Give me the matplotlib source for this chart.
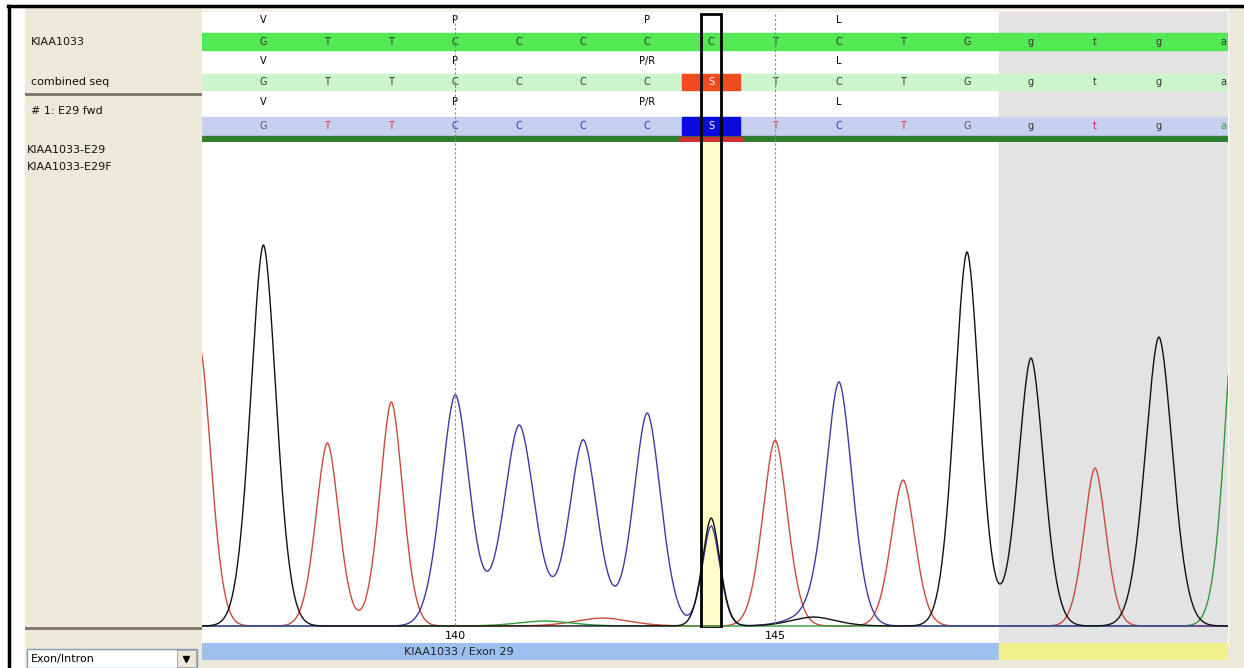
import numpy as np
import matplotlib
matplotlib.use("Agg")
import matplotlib.pyplot as plt
from matplotlib.patches import Rectangle
from matplotlib.lines import Line2D

W, H = 1244, 668

# ---- data ----
positions = np.arange(137, 153)
ref_seq = list("GTTCCCCCTCTGgtga")
combined_seq = list("GTTCCCCSTCTGgtga")
read_seq = list("GTTCCCCSTCTGgtga")
aa_pos = [137, 140, 143, 146]
aa_ref = ["V", "P", "P", "L"]
aa_combined = ["V", "P", "P/R", "L"]
aa_read = ["V", "P", "P/R", "L"]
variant_pos = 144
exon_end = 148.5
tick_pos = [140, 145]
tick_labels = ["140", "145"]
row_labels = ["KIAA1033", "combined seq", "# 1: E29 fwd"]
sample_labels = ["KIAA1033-E29", "KIAA1033-E29F"]
feature_label = "KIAA1033 / Exon 29"
feature_label_pos = 140.05

# chromatogram peaks per channel: position, height, width
g_pos = [137.0, 144.0, 148.0, 149.0, 151.0, 145.6]
g_h = [381, 108, 374, 268, 289, 9]
g_w = [0.29, 0.2, 0.285, 0.29, 0.31, 0.5]
t_pos = [136.0, 138.0, 139.0, 145.0, 147.0, 150.0, 142.3]
t_h = [280, 183, 224, 186, 146, 158, 8]
t_w = [0.26, 0.26, 0.26, 0.28, 0.27, 0.25, 0.6]
c_pos = [140.0, 141.0, 142.0, 143.0, 144.0, 146.0, 145.6]
c_h = [231, 201, 186, 213, 100, 238, 12]
c_w = [0.32, 0.35, 0.32, 0.31, 0.2, 0.3, 0.5]
a_pos = [152.25, 141.4]
a_h = [370, 5]
a_w = [0.28, 0.6]
peak_shape = 1.8

xlim = (136.04, 152.08)
trace_colors = {"G": "#111111", "T": "#cc4a3a", "C": "#3b3ba6", "A": "#2f9a3a"}
read_colors = {"G": "#555555", "T": "#e03030", "C": "#3333bb", "S": "white",
               "g": "#333333", "t": "#d02040", "a": "#33a033"}

fig = plt.figure(figsize=(W / 100, H / 100), dpi=100)
fig.patch.set_facecolor("white")


def px_axes(x0, y0, x1, y1, z=1):
    ax = fig.add_axes([x0 / W, 1 - y1 / H, (x1 - x0) / W, (y1 - y0) / H], zorder=z)
    ax.set_axis_off()
    return ax


# beige frame with white viewer area
bg = px_axes(10, 6, W, H, z=0)
bg.set_xlim(10, W)
bg.set_ylim(H, 6)
bg.add_patch(Rectangle((25, 6), W - 25, H - 6, color="#ece9d8"))
bg.add_patch(Rectangle((202, 6), 1026, 6, color="#f3f1e8"))
bg.add_patch(Rectangle((202, 12), 1026, 631, color="white"))

# left panel
lp = px_axes(25, 0, 202, H, z=2)
lp.set_xlim(25, 202)
lp.set_ylim(H, 0)
for lab, y in zip(row_labels, [42, 82, 111]):
    lp.text(31, y, lab, fontsize=8, va="center", ha="left", color="#111111")
for lab, y in zip(sample_labels, [150, 167]):
    lp.text(27, y, lab, fontsize=8, va="center", ha="left", color="#111111")
lp.plot([25, 202], [94, 94], color="#7a7265", lw=2)
lp.plot([25, 202], [628, 628], color="#7a7265", lw=2)
lp.add_patch(Rectangle((27, 649), 170, 19, facecolor="white", edgecolor="#7f9db9", lw=1))
lp.text(31, 659, "Exon/Intron", fontsize=8, va="center", ha="left")
lp.add_patch(Rectangle((177, 650), 19, 17, facecolor="#ece9d8", edgecolor="#aaaaaa", lw=0.8))
lp.plot([186.5], [658.5], marker="v", color="black", ms=4)

# sequence tracks
sq = px_axes(202, 12, 1228, 142, z=2)
sq.set_xlim(xlim)
sq.set_ylim(142, 12)
sq.axvspan(exon_end, xlim[1], color="#e3e3e3", zorder=0)
bars = [(33, 50, "#55e855"), (74, 90, "#ccf5cc"), (117, 135, "#c8d0f0")]
for y0, y1, col in bars:
    sq.add_patch(Rectangle((xlim[0], y0), xlim[1] - xlim[0], y1 - y0, color=col, zorder=1))
sq.add_patch(Rectangle((xlim[0], 136), xlim[1] - xlim[0], 6, color="#2f7f2f", zorder=2))
sq.add_patch(Rectangle((variant_pos - 0.45, 74), 0.9, 16, color="#f04a20", zorder=2))
sq.add_patch(Rectangle((variant_pos - 0.45, 117), 0.9, 18, color="#0a0adc", zorder=2))
sq.add_patch(Rectangle((variant_pos - 0.5, 137), 1.0, 5, color="#d03030", zorder=3))
for p, a, b, c in zip(aa_pos, aa_ref, aa_combined, aa_read):
    sq.text(p, 20, a, fontsize=7, ha="center", va="center", zorder=4)
    sq.text(p, 61, b, fontsize=7, ha="center", va="center", zorder=4)
    sq.text(p, 102, c, fontsize=7, ha="center", va="center", zorder=4)
for p, r, cb, rd in zip(positions, ref_seq, combined_seq, read_seq):
    sq.text(p, 42, r, fontsize=7, ha="center", va="center", color="#333333", zorder=4)
    sq.text(p, 82, cb, fontsize=7, ha="center", va="center",
            color="white" if cb == "S" else "#333333", zorder=4)
    sq.text(p, 126, rd, fontsize=7, ha="center", va="center", color=read_colors[rd], zorder=4)

# chromatogram
ch = px_axes(202, 142, 1228, 628, z=2)
ch.set_xlim(xlim)
ch.set_ylim(-2, 484)
ch.axvspan(exon_end, xlim[1], color="#e3e3e3", zorder=0)
ch.axvspan(variant_pos - 0.16, variant_pos + 0.16, color="#ffffc8", zorder=0.5)
xs = np.linspace(135.0, 153.0, 3601)
channels = [("T", t_pos, t_h, t_w), ("A", a_pos, a_h, a_w),
            ("C", c_pos, c_h, c_w), ("G", g_pos, g_h, g_w)]
for base, pos, hts, wds in channels:
    ys = np.zeros_like(xs)
    for p, h, w in zip(pos, hts, wds):
        ys += h * np.exp(-(np.abs(xs - p) / w) ** peak_shape)
    ch.plot(xs, ys, color=trace_colors[base], lw=1.0, zorder=2)

# overlay: dashed tick lines and variant box
ov = px_axes(202, 12, 1228, 628, z=3)
ov.set_xlim(xlim)
ov.set_ylim(616, 0)
for t in tick_pos:
    ov.plot([t, t], [2, 614], color="#888888", lw=0.8, ls=(0, (2, 2)))
ov.add_patch(Rectangle((variant_pos - 0.16, 2), 0.32, 614, fill=False, edgecolor="black", lw=2))

# ruler
ru = px_axes(202, 628, 1228, 643, z=2)
ru.set_xlim(xlim)
ru.set_ylim(0, 1)
ru.axvspan(xlim[0], exon_end, color="white")
ru.axvspan(exon_end, xlim[1], color="#e3e3e3")
for t, lab in zip(tick_pos, tick_labels):
    ru.text(t, 0.45, lab, fontsize=8, ha="center", va="center")

# feature bar
fb = px_axes(202, 643, 1228, 660, z=2)
fb.set_xlim(xlim)
fb.set_ylim(0, 1)
fb.axvspan(xlim[0], exon_end, color="#9dc0f0")
fb.axvspan(exon_end, xlim[1], color="#f0f08c")
fb.text(feature_label_pos, 0.5, feature_label, fontsize=8, ha="center", va="center", color="#222222")

# window border
fig.add_artist(Line2D([8 / W, 1], [1 - 6 / H, 1 - 6 / H], color="black", lw=2.5))
fig.add_artist(Line2D([9 / W, 9 / W], [0, 1 - 6 / H], color="black", lw=2.5))

fig.savefig("out.png", dpi=100)
